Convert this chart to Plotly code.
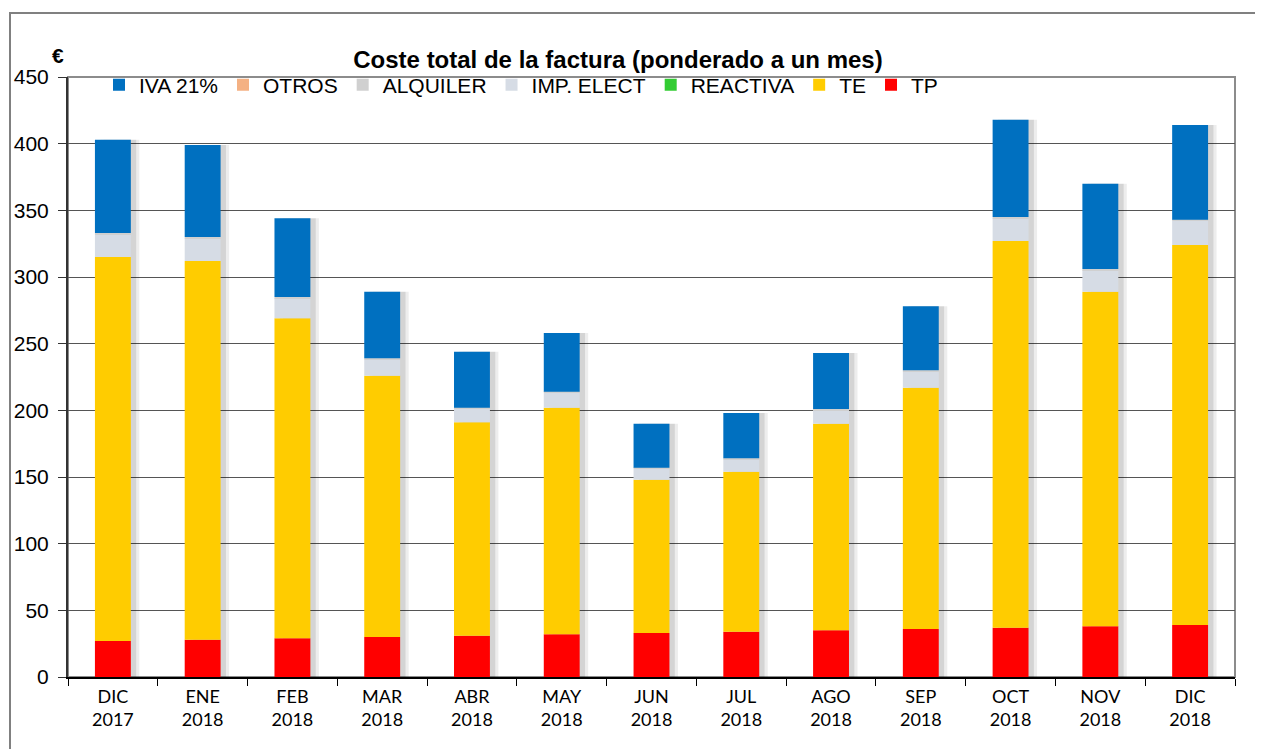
import plotly.graph_objects as go

months = ["DIC<br>2017", "ENE<br>2018", "FEB<br>2018", "MAR<br>2018", "ABR<br>2018",
          "MAY<br>2018", "JUN<br>2018", "JUL<br>2018", "AGO<br>2018", "SEP<br>2018",
          "OCT<br>2018", "NOV<br>2018", "DIC<br>2018"]

tp = [27, 28, 29, 30, 31, 32, 33, 34, 35, 36, 37, 38, 39]
te = [288, 284, 240, 196, 160, 170, 115, 120, 155, 181, 290, 251, 285]
reactiva = [0, 0, 0, 0, 0, 0, 0, 0, 0, 0, 0, 0, 0]
imp_elect = [17, 17, 15, 12, 10, 11, 8, 9, 10, 12, 17, 16, 18]
alquiler = [1, 1, 1, 1, 1, 1, 1, 1, 1, 1, 1, 1, 1]
otros = [0, 0, 0, 0, 0, 0, 0, 0, 0, 0, 0, 0, 0]
iva = [70, 69, 59, 50, 42, 44, 33, 34, 42, 48, 73, 64, 71]

# stacked bottom -> top
series = [
    ("TP", tp, "#FF0000"),
    ("TE", te, "#FFCC00"),
    ("REACTIVA", reactiva, "#33CC33"),
    ("IMP. ELECT", imp_elect, "#D6DCE5"),
    ("ALQUILER", alquiler, "#D0D0D0"),
    ("OTROS", otros, "#F4B183"),
    ("IVA 21%", iva, "#0070C0"),
]

# page body has an 8px margin, so the figure is a bit smaller than the window
W, H = 1255, 741
L, R, T, B = 60, 28, 69, 72
PW, PH = W - L - R, H - T - B

totals = [sum(v) for v in zip(*[s[1] for s in series])]

fig = go.Figure()
# soft shadow behind each column (two layers to fake a blur)
for shift, alpha in [(0.095, 0.07), (0.06, 0.10)]:
    fig.add_trace(go.Bar(x=months, y=totals, base=0, width=0.4, offset=-0.2 + shift,
                         marker_color=f"rgba(0,0,0,{alpha})", marker_line_width=0,
                         showlegend=False, hoverinfo="skip"))

base = [0] * len(months)
for name, vals, color in series:
    fig.add_trace(go.Bar(x=months, y=vals, base=list(base), name=name, marker_color=color,
                         marker_line_width=0, width=0.4, offset=-0.2))
    base = [b + v for b, v in zip(base, vals)]

fig.update_layout(
    width=W, height=H,
    barmode="overlay",
    plot_bgcolor="white",
    paper_bgcolor="white",
    margin=dict(l=L, r=R, t=T, b=B, autoexpand=False),
    font=dict(family="Liberation Sans, Arial", color="black"),
    title=dict(text="<b>Coste total de la factura (ponderado a un mes)</b>",
               x=610 / W, xanchor="center", xref="container",
               y=1 - 52 / H, yanchor="middle", yref="container",
               font=dict(size=24, family="Liberation Sans, Arial")),
    legend=dict(orientation="h", traceorder="reversed",
                x=31 / PW, xanchor="left",
                y=1 - 8 / PH, yanchor="middle",
                font=dict(size=21, family="Liberation Sans, Arial"),
                bgcolor="rgba(0,0,0,0)", itemwidth=30),
)

fig.update_yaxes(range=[0, 450], dtick=50, showgrid=True, gridcolor="#555555", gridwidth=1,
                 showline=True, linecolor="#333333", linewidth=2, automargin=False,
                 ticks="outside", ticklen=8, tickcolor="#333333", ticklabelstandoff=5,
                 tickfont=dict(size=21, family="Liberation Sans, Arial"), zeroline=False)
fig.update_xaxes(showline=True, linecolor="black", linewidth=2, automargin=False,
                 ticks="outside", tickson="boundaries", ticklen=7, tickcolor="black",
                 ticklabelstandoff=2,
                 tickfont=dict(size=18, family="Lato, Open Sans"))

# plot area border (top / right) and outer chart frame
fig.add_shape(type="rect", xref="paper", yref="paper", x0=0, y0=0, x1=1, y1=1,
              line=dict(color="#8C8C8C", width=2), layer="below")
fig.add_shape(type="rect", xref="paper", yref="paper",
              x0=(2 - L) / PW, x1=(1290 - L) / PW,
              y0=-(780 - (H - B)) / PH, y1=((H - B) - 5) / PH,
              line=dict(color="#808080", width=2), layer="below")

fig.add_annotation(text="<b>€</b>", xref="paper", yref="paper",
                   x=(42 - L) / PW, y=((H - B) - 34) / PH,
                   showarrow=False, font=dict(size=21, family="Liberation Sans, Arial"))

fig.write_html("out.html")
